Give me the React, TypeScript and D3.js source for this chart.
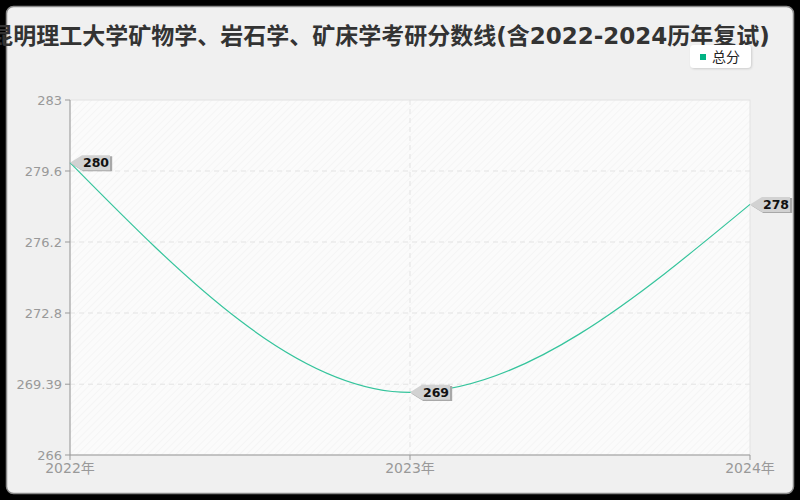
import React, { useMemo } from 'react'
import * as d3 from 'd3'

const years = ['2022年', '2023年', '2024年']
const totalScores = [280, 269, 278]
const yTickValues = [266, 269.39, 272.8, 276.2, 279.6, 283]
const seriesName = '总分'
const title = '昆明理工大学矿物学、岩石学、矿床学考研分数线(含2022-2024历年复试)'

const W = 800
const H = 500
const margin = { top: 100, right: 50, bottom: 45, left: 70 }
const lineColor = '#35c49c'
const font = '"DejaVu Sans", "Noto Sans CJK SC", sans-serif'

const App = () => {
    const innerW = W - margin.left - margin.right
    const innerH = H - margin.top - margin.bottom

    const xScale = useMemo(() => (
        d3.scalePoint<string>()
            .domain(years)
            .range([0, innerW])
    ), [innerW])

    const yScale = useMemo(() => (
        d3.scaleLinear()
            .domain([266, 283])
            .range([innerH, 0])
    ), [innerH])

    const points: [number, number][] = years.map((y, i) => [xScale(y) as number, yScale(totalScores[i])])

    const linePath = d3.line().curve(d3.curveMonotoneX)(points) || ''

    return (
        <svg width={W} height={H} style={{ position: 'absolute', left: 0, top: 0, display: 'block' }}>
            <defs>
                <pattern id="hatch" width="5" height="5" patternUnits="userSpaceOnUse" patternTransform="rotate(45)">
                    <rect width="5" height="5" fill="#fbfbfb" />
                    <line x1="0" y1="0" x2="0" y2="5" stroke="#efefef" strokeWidth="1" />
                </pattern>
                <filter id="shadow" x="-20%" y="-20%" width="140%" height="160%">
                    <feDropShadow dx="1" dy="1" stdDeviation="1" floodColor="#000" floodOpacity="0.15" />
                </filter>
            </defs>
            <rect x={0} y={0} width={W} height={H} fill="#000" />
            <rect x={6.5} y={6.5} width={787} height={487} rx={7} fill="#f0f0f0" stroke="#8a8a8a" strokeWidth={1.5} />

            <text x={380} y={44} textAnchor="middle" fontFamily={font} fontSize={23} fontWeight="bold" fill="#333">
                {title}
            </text>

            {/* legend */}
            <g transform="translate(690 45)">
                <rect width={61} height={23} rx={4} fill="#fff" filter="url(#shadow)" />
                <rect x={10} y={9} width={6} height={6} fill="#00b383" />
                <text x={22} y={16.5} fontFamily={font} fontSize={14} fill="#222">{seriesName}</text>
            </g>

            <g transform={`translate(${margin.left} ${margin.top})`}>
                <rect width={innerW} height={innerH} fill="url(#hatch)" stroke="#e2e2e2" strokeWidth={1} />

                {yTickValues.map((t, i) => (
                    <g key={t}>
                        {i > 0 && i < yTickValues.length - 1 && (
                            <line x1={0} x2={innerW} y1={yScale(t)} y2={yScale(t)} stroke="#e3e3e3" strokeDasharray="5,4" />
                        )}
                        <line x1={-5} x2={0} y1={yScale(t)} y2={yScale(t)} stroke="#999" />
                        <text x={-8} y={yScale(t)} dy="0.36em" textAnchor="end" fontFamily={font} fontSize={13} fill="#999">
                            {t}
                        </text>
                    </g>
                ))}

                {years.map((y, i) => (
                    <g key={y}>
                        {i > 0 && i < years.length - 1 && (
                            <line x1={xScale(y)} x2={xScale(y)} y1={0} y2={innerH} stroke="#e3e3e3" strokeDasharray="5,4" />
                        )}
                        <line x1={xScale(y)} x2={xScale(y)} y1={innerH} y2={innerH + 5} stroke="#999" />
                        <text x={xScale(y)} y={innerH + 18} textAnchor="middle" fontFamily={font} fontSize={14} fill="#999">
                            {y}
                        </text>
                    </g>
                ))}

                <line x1={0} x2={0} y1={0} y2={innerH} stroke="#999" />
                <line x1={0} x2={innerW} y1={innerH} y2={innerH} stroke="#999" />

                <path d={linePath} fill="none" stroke={lineColor} strokeWidth={1.2} />

                {points.map(([px, py], i) => (
                    <g key={i} transform={`translate(${px} ${py})`}>
                        <path d="M0,0 L12,-7.5 L41,-7.5 L41,7.5 L12,7.5 Z" fill="#a8a8a8" transform="translate(1.2 1.2)" />
                        <path d="M0,0 L12,-7.5 L40,-7.5 L40,7.5 L12,7.5 Z" fill="#d2d2d2" />
                        <text x={26} y={0} dy="0.36em" textAnchor="middle" fontFamily={font} fontSize={12.5} fontWeight="bold" fill="#111">
                            {totalScores[i]}
                        </text>
                    </g>
                ))}
            </g>
        </svg>
    )
}

export default App
